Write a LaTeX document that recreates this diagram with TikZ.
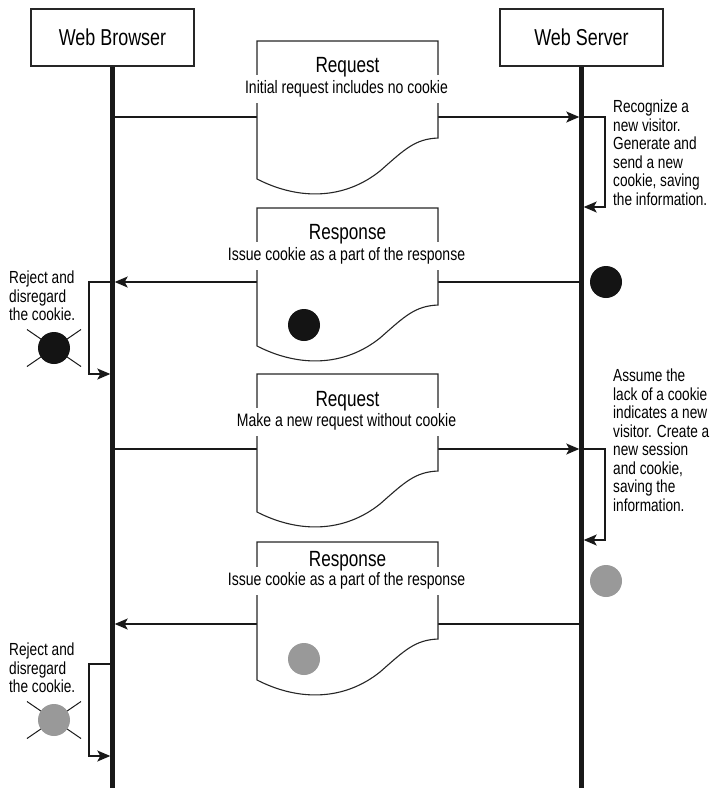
\documentclass[tikz,border=0pt]{standalone}
\usepackage{fontspec}
\setmainfont{Liberation Sans}[FakeStretch=0.78]
\usetikzlibrary{arrows.meta}

\begin{document}
\begin{tikzpicture}[x=1pt,y=-1pt,
  actor/.style={draw=black!85, line width=1.1pt, minimum width=163pt, minimum height=57pt, inner sep=0pt, font=\fontsize{23}{26}\selectfont},
  lifeline/.style={line width=4.5pt, black!90},
  msg/.style={line width=1.4pt, black!90, -{Stealth[length=13pt,width=11pt,inset=3pt]}, shorten >=2.2pt},
  docline/.style={draw=black!85, line width=1.1pt, fill=white},
  doctitle/.style={font=\fontsize{22}{24}\selectfont, inner sep=0pt},
  docsub/.style={font=\fontsize{18}{20}\selectfont, fill=white, inner xsep=2pt, inner ysep=0pt, minimum height=28pt},
  note/.style={font=\fontsize{17.5}{18.5}\selectfont, align=left, anchor=north west, inner sep=0pt},
  cookie/.style={circle, minimum size=32pt, inner sep=0pt},
  blackcookie/.style={cookie, fill=black!92},
  graycookie/.style={cookie, fill=black!40},
  crossline/.style={line width=1pt, black!90},
  doc/.pic={\path[docline] (0,0) -- (181,0) -- (181,97)
      .. controls (158,98) and (148,108) .. (123,130)
      .. controls (88,158) and (43,160) .. (0,138) -- cycle;}
]
\useasboundingbox (0,0) rectangle (712,788);

% participants
\node[actor] (wb) at (112.5,37.5) {Web Browser};
\node[actor] (ws) at (581.5,37.5) {Web Server};

% lifeline end points
\coordinate (wbEnd) at (112.5,788);
\coordinate (wsEnd) at (581.5,788);
\draw[lifeline] (wb.south) -- (wbEnd);
\draw[lifeline] (ws.south) -- (wsEnd);

% message anchors on the lifelines
\coordinate (b1) at (112.5,117);  \coordinate (s1) at (581.5,117);
\coordinate (b2) at (112.5,282);  \coordinate (s2) at (581.5,282);
\coordinate (b3) at (112.5,449);  \coordinate (s3) at (581.5,449);
\coordinate (b4) at (112.5,624);  \coordinate (s4) at (581.5,624);

% self loops
\coordinate (s1r) at (581.5,207); \coordinate (s3r) at (581.5,540);
\coordinate (b2r) at (112.5,374); \coordinate (b4t) at (112.5,664); \coordinate (b4r) at (112.5,756);

% messages
\draw[msg] (b1) -- (s1);
\draw[msg] (s2) -- (b2);
\draw[msg] (b3) -- (s3);
\draw[msg] (s4) -- (b4);

\draw[msg] (s1) -- (605,117) -- (605,207) -- (s1r);
\draw[msg] (s3) -- (605,449) -- (605,540) -- (s3r);
\draw[msg] (b2) -- (89,282) -- (89,374) -- (b2r);
\draw[msg] (b4t) -- (89,664) -- (89,756) -- (b4r);

% message documents
\pic at (257,41) {doc};
\pic at (257,208) {doc};
\pic at (257,374) {doc};
\pic at (257,542) {doc};

\node[docsub] (d1) at (346.5,89) {Initial request includes no cookie};
\node[doctitle] (t1) at (347.5,67) {Request};
\node[docsub] (d2) at (346.5,256) {Issue cookie as a part of the response};
\node[doctitle] (t2) at (347.5,234) {Response};
\node[docsub] (d3) at (346.5,422) {Make a new request without cookie};
\node[doctitle] (t3) at (347.5,401) {Request};
\node[docsub] (d4) at (346.5,581) {Issue cookie as a part of the response};
\node[doctitle] (t4) at (347.5,561) {Response};

% cookies
\node[blackcookie] (c2) at (304,325) {};
\node[graycookie] (c4) at (304,659) {};
\node[blackcookie] (sc2) at (606,282) {};
\node[graycookie] (sc4) at (606,581) {};

% rejected cookies
\draw[crossline] (27,329.5) -- (81,366.5);
\draw[crossline] (27,366.5) -- (81,329.5);
\node[blackcookie] (rc2) at (54,348) {};
\draw[crossline] (27,701.5) -- (81,738.5);
\draw[crossline] (27,738.5) -- (81,701.5);
\node[graycookie] (rc4) at (54,720) {};

% notes
\node[note] (n1) at (613,100) {Recognize a\\new visitor.\\Generate and\\send a new\\cookie, saving\\the information.};
\node[note] (n3) at (613,369) {Assume the\\lack of a cookie\\indicates a new\\visitor. Create a\\new session\\and cookie,\\saving the\\information.};
\node[note] (n2) at (9,271) {Reject and\\disregard\\the cookie.};
\node[note] (n4) at (9,643) {Reject and\\disregard\\the cookie.};
\end{tikzpicture}
\end{document}
